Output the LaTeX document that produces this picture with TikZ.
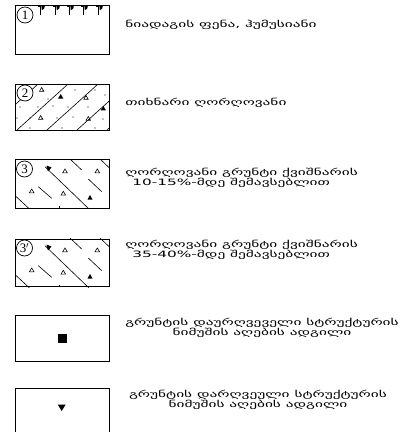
\documentclass[tikz,border=0pt]{standalone}
\usepackage{fontspec}
\newfontfamily\geo{DejaVu Sans}
\newfontfamily\numfont{Liberation Serif}
\begin{document}
\begin{tikzpicture}[x=1bp,y=-1bp,
  legbox/.style={draw=black, line width=0.9bp, minimum width=94bp, inner sep=0pt, outer sep=0pt},
  numcirc/.style={circle, draw=black, fill=white, line width=0.7bp, minimum size=16bp, inner sep=0pt, font=\numfont\fontsize{13}{13}\selectfont},
  gtext/.style={font=\geo\fontsize{10}{10}\selectfont, inner sep=0pt, xscale=1.54, yscale=0.88},
  hatch/.style={line width=0.6bp},
  otri/.style={line width=0.6bp},
]
\clip (0,0) rectangle (405,432);
\fill[white] (0,0) rectangle (405,432);

% ---------- box 1
\node[legbox, minimum height=49bp, anchor=north west] (b1) at (15,5) {};
\foreach \gx in {40,55,69,83,98} {
  \draw[line width=0.7bp] (\gx,6) -- (\gx,14.5);
  \draw[line width=0.6bp] (\gx-1.8,6.5) -- (\gx+1,6.5);
  \fill (\gx+1.4,6.2) -- (\gx+4.8,6.2) -- (\gx+4,9) -- (\gx+1.8,10) -- cycle;
}
\node[numcirc] (c1) at (25,15) {1};
\node[gtext, anchor=west] (t1) at (125,25) {ნიადაგის ფენა, ჰუმუსიანი};

% ---------- box 2
\node[legbox, minimum height=46bp, anchor=north west] (b2) at (15,84) {};
\begin{scope}
  \clip (15,84) rectangle (109,130);
  \foreach \bx in {-13,17,47,77,107} {
    \draw[hatch] (\bx,130) -- (\bx+51.1,84);
  }
  \foreach \p in {(75,90),(20,107),(38,107),(53,106),(68,107),(88,107),(17,118),(30,118),(57,118),(73,117),(103,119),(48,99),(95,90),(105,95),(30,128),(62,128),(95,128)}
    \fill \p circle (0.6);
\end{scope}
% open triangles box 2
\foreach \tx/\ty in {41.7/89.5, 86/97.5, 40.7/117.5, 88.3/118.5} {
  \draw[otri] (\tx-2.2,\ty+1.8) -- (\tx+2.2,\ty+1.8) -- (\tx,\ty-2) -- cycle;
  \fill (\tx+1.2,\ty+1) circle (0.5);
}
\foreach \tx/\ty in {60.7/96.5, 103.3/108.3} {
  \fill (\tx-2.6,\ty+2) -- (\tx+2.6,\ty+2) -- (\tx,\ty-2.4) -- cycle;
}
\node[numcirc] (c2) at (25,93) {2};
\node[gtext, anchor=west] (t2) at (125,103) {თიხნარი ღორღოვანი};

% ---------- box 3 and 4 pattern
\foreach \oy/\nm in {0/3, 79/4} {
\begin{scope}[yshift=-\oy bp]
  \begin{scope}
    \clip (15,159) rectangle (109,208);
    \draw[hatch] (45,166.7) -- (89,209);
    \draw[hatch] (70,159) -- (81.7,170);
    \draw[hatch] (100,159) -- (110,168.5);
    \draw[hatch] (88.3,179) -- (101.7,191.7);
    \draw[hatch] (38.3,186.7) -- (51.7,198.3);
    \draw[hatch] (15.5,196) -- (29.5,209);
    \draw[hatch] (59.3,208) -- (59.3,206);
  \end{scope}
  \foreach \tx/\ty in {65/171, 97.3/171, 31.7/191, 63.3/193.3} {
    \draw[otri] (\tx-2.3,\ty+1.8) -- (\tx+2.3,\ty+1.8) -- (\tx,\ty-2) -- cycle;
  }
  \fill (46.5,165.5) -- (51.5,167.5) -- (48,171.5) -- cycle;
  \fill (87.5,199.5) -- (92.5,199.5) -- (90,195) -- cycle;
\end{scope}
}
\node[legbox, minimum height=49bp, anchor=north west] (b3) at (15,159) {};
\node[numcirc] (c3) at (24.5,169) {3};
\node[gtext, anchor=west] (t3a) at (125,172.5) {ღორღოვანი გრუნტი ქვიშნარის};
\node[gtext, anchor=west] (t3b) at (132,183) {10-15\%-მდე შემავსებლით};

\node[legbox, minimum height=47bp, anchor=north west] (b4) at (15,239) {};
\node[numcirc] (c4) at (24.5,248) {3$'$};
\node[gtext, anchor=west] (t4a) at (125,244.5) {ღორღოვანი გრუნტი ქვიშნარის};
\node[gtext, anchor=west] (t4b) at (132,255) {35-40\%-მდე შემავსებლით};

% ---------- box 5
\node[legbox, minimum height=46bp, anchor=north west] (b5) at (15,315) {};
\node[fill=black, minimum size=9bp, inner sep=0pt] (sq) at (b5.center) {};
\node[gtext] (t5a) at (262,322.5) {გრუნტის დაურღვეველი სტრუქტურის};
\node[gtext] (t5b) at (262,333) {ნიმუშის აღების ადგილი};

% ---------- box 6
\node[legbox, minimum height=50bp, anchor=north west] (b6) at (15,388) {};
\fill (57.7,404.5) -- (65.7,404.5) -- (61.7,411) -- cycle;
\coordinate (tri6) at (61.7,407.5);
\node[gtext] (t6a) at (258,394.5) {გრუნტის დარღვეული სტრუქტურის};
\node[gtext] (t6b) at (258,405) {ნიმუშის აღების ადგილი};
\end{tikzpicture}
\end{document}
